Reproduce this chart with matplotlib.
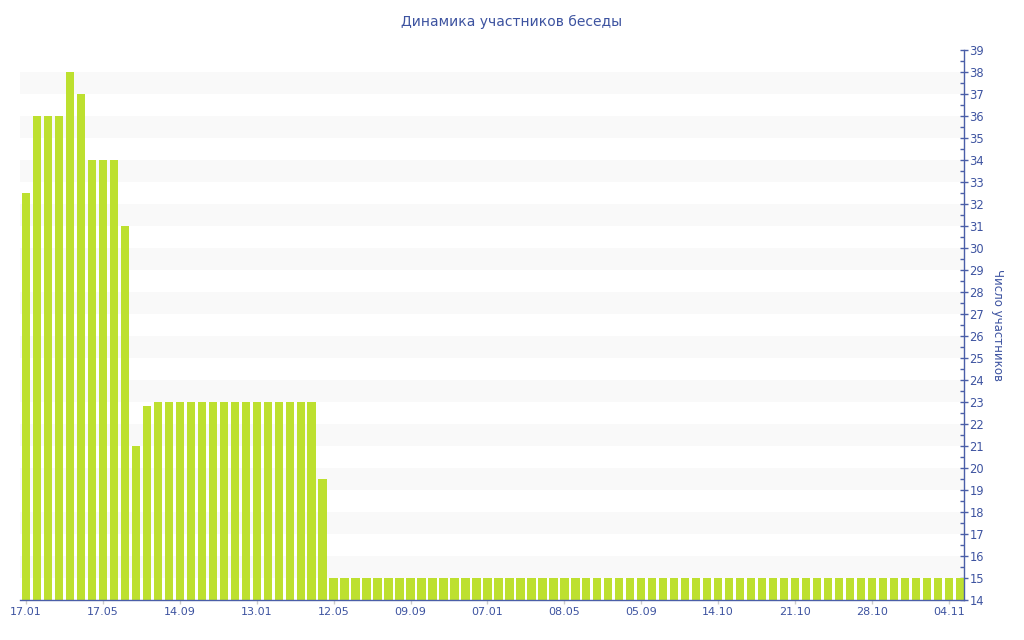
import matplotlib

matplotlib.use("Agg")

import matplotlib.pyplot as plt
from matplotlib.ticker import MultipleLocator

# number of chat members per sampled date
members = (
    [32.5, 36, 36, 36, 38, 37, 34, 34, 34, 31, 21, 22.8]
    + [23] * 15
    + [19.5]
    + [15] * 58
)
tick_labels = ["17.01", "17.05", "14.09", "13.01", "12.05", "09.09", "07.01",
               "08.05", "05.09", "14.10", "21.10", "28.10", "04.11"]
tick_step = 7

BAR = "#bde02f"
AXIS = "#4a5ea8"
TEXT = "#3d53a0"
BAND = "#f9f9f9"

fig = plt.figure(figsize=(10.24, 6.4), dpi=100)
ax = fig.add_axes([20 / 1024, 40 / 640, 944 / 1024, 550 / 640])

for lo in range(15, 38, 2):
    ax.axhspan(lo, lo + 1, color=BAND, zorder=0, lw=0)

x = range(len(members))
ax.bar(x, members, width=0.76, color=BAR, zorder=2)

ax.set_xlim(-0.55, len(members) - 0.62)
ax.set_ylim(14, 39)

ax.set_xticks([i * tick_step for i in range(len(tick_labels))])
ax.set_xticklabels(tick_labels)
ax.tick_params(axis="x", length=3, width=1, color="#cccccc", labelsize=8,
               labelcolor=TEXT, pad=2)

ax.yaxis.tick_right()
ax.yaxis.set_label_position("right")
ax.yaxis.set_major_locator(MultipleLocator(1))
ax.yaxis.set_minor_locator(MultipleLocator(0.5))
ax.tick_params(axis="y", which="major", direction="inout", length=6, width=1,
               color=AXIS, labelsize=8.3, labelcolor=TEXT, pad=1)
ax.tick_params(axis="y", which="minor", direction="in", length=3, width=1, color=AXIS)
ax.set_ylabel("Число участников", rotation=270, color=TEXT, fontsize=8.5, labelpad=14)

for side in ("top", "left"):
    ax.spines[side].set_visible(False)
for side in ("bottom", "right"):
    ax.spines[side].set_color(AXIS)
    ax.spines[side].set_linewidth(1)

fig.text(0.5, 1 - 22 / 640, "Динамика участников беседы", ha="center", va="center",
         color=TEXT, fontsize=10)

fig.savefig("out.png", dpi=100)
